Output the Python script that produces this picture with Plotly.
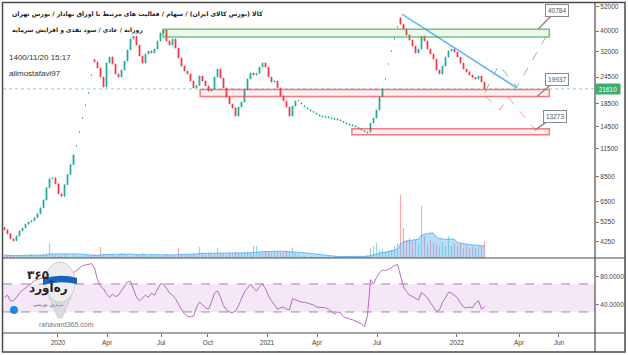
import math
import pandas as pd
import plotly.graph_objects as go

# ---------------- data ----------------
closes = [4830, 4630, 4390, 4300, 4530, 4780, 4930, 5130, 5250, 5320,
          5490, 5730, 6100, 6640, 7560, 8320, 8390, 7880, 7080, 6900,
          7800, 8700, 9660, 10730, 11800, 13670, 15860, 18210, 20700, 25060,
          28770, 26990, 24530, 22060, 28460, 30340, 28150, 25330, 24530, 26420,
          29070, 32680, 36740, 37860, 34470, 30660, 28460, 31310, 32350, 31670,
          33030, 35970, 39160, 40430, 35970, 34470, 36740, 33380, 30010, 27570,
          26140, 25330, 23510, 21830, 22400, 24790, 23510, 22300, 21140, 21600,
          24530, 26700, 24270, 21830, 19830, 18400, 17640, 16200, 17830, 18800,
          21370, 24010, 25590, 25060, 25500, 27280, 28460, 27280, 24530, 23260,
          23510, 21830, 20050, 19000, 17830, 16200, 18020, 19000, 19100, 18600,
          18020, 17640, 17270, 17000, 16700, 16380, 16200, 16110, 16030, 15860,
          15780, 15700, 15530, 15290, 15040, 14880, 14720, 14560, 14330, 14110,
          13890, 13670, 15040, 15860, 17270, 19830, 21600, 24010, 28150, 32350,
          36740, 41740, 43000, 40860, 38340, 36350, 34100, 31650, 33030, 37860,
          35970, 33030, 31320, 29670, 26420, 25330, 27570, 30340, 32350, 33030,
          31990, 30340, 28460, 26700, 25870, 25060, 24400, 24010, 24790, 23260,
          21610]

opens = [4950, 4830, 4630, 4390, 4300, 4530, 4780, 4930, 5130, 5250,
         5320, 5490, 5730, 6100, 6640, 7560, 8320, 8390, 7880, 7080,
         6900, 7800, 8700, 9660, 11800, 13670, 15860, 18210, 20700, 25060,
         29500, 28770, 26990, 24530, 22060, 28460, 30340, 28150, 25330, 24530,
         26420, 29070, 32680, 36740, 37860, 34470, 30660, 28460, 31310, 32350,
         31670, 33030, 35970, 39160, 40430, 35970, 34470, 36740, 33380, 30010,
         27570, 26140, 25330, 23510, 21830, 22400, 24790, 23510, 22300, 21140,
         21600, 24530, 26700, 24270, 21830, 19830, 18400, 17640, 16200, 17830,
         18800, 21370, 24010, 25590, 25060, 25500, 27280, 28460, 27280, 24530,
         23260, 23510, 21830, 20050, 19000, 17830, 16200, 18020, 19000, 18420,
         17840, 17460, 17100, 16830, 16530, 16220, 16040, 15950, 15870, 15700,
         15620, 15540, 15370, 15140, 14890, 14730, 14570, 14410, 14190, 13970,
         13750, 13530, 13670, 15040, 15860, 17270, 19830, 24010, 28150, 32350,
         36740, 41740, 46000, 43000, 40860, 38340, 36350, 34100, 31650, 33030,
         37860, 35970, 33030, 31320, 29670, 26420, 25330, 27570, 30340, 32350,
         33030, 31990, 30340, 28460, 26700, 25870, 25060, 24400, 24010, 24790,
         23260]

volumes = [3, 2, 3, 2, 3, 2, 3, 2, 3, 4,
           3, 2, 3, 4, 5, 15, 4, 3, 2, 3,
           4, 3, 2, 3, 2, 2, 2, 3, 2, 3,
           4, 3, 11, 4, 3, 4, 3, 2, 3, 5,
           4, 3, 2, 3, 4, 3, 5, 3, 2, 3,
           4, 3, 2, 3, 4, 3, 2, 3, 10, 4,
           3, 4, 3, 5, 4, 11, 4, 3, 5, 4,
           4, 10, 5, 4, 3, 5, 4, 6, 5, 4,
           5, 6, 5, 12, 12, 6, 5, 7, 6, 5,
           6, 5, 6, 5, 7, 6, 10, 5, 4, 2,
           2, 1, 2, 1, 2, 1, 2, 1, 2, 1,
           2, 1, 2, 1, 2, 1, 2, 1, 2, 1,
           2, 3, 10, 12, 15, 8, 9, 6, 7, 8,
           12, 15, 63, 30, 18, 20, 16, 18, 14, 52,
           22, 14, 18, 15, 14, 12, 16, 12, 22, 12,
           15, 12, 14, 10, 12, 10, 11, 10, 11, 12,
           16]

rsi_values = [51, 54, 46, 46, 51, 57, 61, 64, 67, 71,
              75, 76, 77, 79, 81, 83, 77, 70, 64, 64,
              71, 77, 81, 86, 89, 93, 96, 97, 98, 99,
              93, 76, 67, 63, 56, 51, 55, 52, 54, 60,
              67, 73, 74, 63, 51, 46, 50, 54, 51, 57,
              54, 63, 70, 70, 63, 57, 54, 49, 41, 34,
              27, 24, 23, 24, 37, 44, 40, 36, 34, 44,
              57, 60, 51, 39, 33, 30, 29, 31, 39, 49,
              59, 64, 70, 64, 60, 66, 70, 63, 53, 46,
              40, 34, 36, 37, 34, 33, 49, 47, 46, 44,
              44, 43, 41, 40, 37, 37, 37, 36, 34, 31,
              27, 30, 29, 23, 21, 20, 19, 17, 16, 13,
              9, 25, 76, 70, 79, 86, 90, 89, 91, 94,
              96, 98, 83, 66, 59, 54, 52, 50, 47, 58,
              54, 50, 43, 37, 31, 33, 44, 50, 58, 57,
              54, 50, 43, 37, 36, 37, 36, 43, 46, 34,
              37]

price_ticks = [4250, 5250, 6500, 8500, 11500, 14500, 18500, 24500, 32000, 40000, 52000]
rsi_ticks = [40, 80]
rsi_tick_text = ["40.0000", "80.0000"]
date_labels = ["2020", "Apr", "Jul", "Oct", "2021", "Apr", "Jul", "2022", "Apr", "Jun"]
date_label_bars = [17.8, 34.2, 52.2, 67.8, 87.5, 104.2, 124.2, 150.8, 171.5, 184.8]

last_price = 21610
resistance_zone = [37500, 40784]
support_zone = [19937, 21450]
deep_zone = [13273, 14150]
zone_start_bars = [52.8, 65.2, 115.8]
zone_end_bar = 181.6
callout_values = [40784, 19937, 13273]
callout_tip_prices = [40784, 19937, 13950]
callout_tip_bars = [177.8, 177.5, 176.8]

trend_bars = [132.5, 170.8]
trend_prices = [47900, 21830]
bull_bars = [160.2, 164.8, 170.8, 181.2]
bull_prices = [20920, 27860, 22060, 39160]
bear_bars = [160.2, 165.2, 167.8, 176.7]
bear_prices = [20050, 17270, 19830, 14110]

title_line1 = "کالا (بورس کالای ایران) / سهام / فعالیت های مرتبط با اوراق بهادار / بورس تهران"
title_line2 = "روزانه / عادی / سود نقدی و افزایش سرمایه"
stamp_text = "1400/11/20 15:17"
author_text = "alimostafavi97"

# ---------------- geometry helpers ----------------
W, H = 628, 355
ML, MR, MT, MB = 3, 33, 3, 22
PW, PH = W - ML - MR, H - MT - MB
SPLIT = 75 / PH  # rsi pane height share


def pxx(x):
    return (x - ML) / PW


def pyy(y):
    return (H - MB - y) / PH


UP = "#22ab94"
DOWN = "#f23645"
FONT = "Liberation Sans"

idx = list(range(len(closes)))
highs = [max(o, c) for o, c in zip(opens, closes)]
lows = [min(o, c) for o, c in zip(opens, closes)]
vol_colors = ["rgba(34,171,148,0.45)" if c >= o else "rgba(242,54,69,0.45)"
              for o, c in zip(opens, closes)]
vol_ma = pd.Series(volumes).rolling(12, min_periods=1).mean().tolist()

fig = go.Figure()

# volume (overlay on price pane)
fig.add_trace(go.Scatter(x=idx, y=vol_ma, mode="lines", fill="tozeroy",
                         line=dict(color="rgba(66,165,245,0.75)", width=1),
                         fillcolor="rgba(100,181,246,0.45)",
                         xaxis="x", yaxis="y3", hoverinfo="skip", showlegend=False))
fig.add_trace(go.Bar(x=idx, y=volumes, marker=dict(color=vol_colors, line=dict(width=0)),
                     width=0.4, xaxis="x", yaxis="y3", hoverinfo="skip", showlegend=False))

# candles
fig.add_trace(go.Candlestick(
    x=idx, open=opens, high=highs, low=lows, close=closes,
    increasing=dict(line=dict(color=UP, width=0.8), fillcolor=UP),
    decreasing=dict(line=dict(color=DOWN, width=0.8), fillcolor=DOWN),
    whiskerwidth=0, xaxis="x", yaxis="y", hoverinfo="skip", showlegend=False))

# trend line and projection paths
fig.add_trace(go.Scatter(x=trend_bars, y=trend_prices, mode="lines",
                         line=dict(color="#64b5f6", width=1.6),
                         xaxis="x", yaxis="y", hoverinfo="skip", showlegend=False))
fig.add_trace(go.Scatter(x=bull_bars, y=bull_prices, mode="lines",
                         line=dict(color="#81c784", width=1, dash="dash"),
                         xaxis="x", yaxis="y", hoverinfo="skip", showlegend=False))
fig.add_trace(go.Scatter(x=bear_bars, y=bear_prices, mode="lines",
                         line=dict(color="#ef9a9a", width=1, dash="dash"),
                         xaxis="x", yaxis="y", hoverinfo="skip", showlegend=False))

# RSI
fig.add_trace(go.Scatter(x=idx, y=rsi_values, mode="lines",
                         line=dict(color="#b968c9", width=1),
                         xaxis="x2", yaxis="y2", hoverinfo="skip", showlegend=False))

shapes = []
# RSI band + levels
shapes.append(dict(type="rect", xref="x2 domain", yref="y2", x0=0, x1=1, y0=30, y1=70,
                   fillcolor="rgba(156,39,176,0.11)", line=dict(width=0), layer="below"))
for lv in (30, 70):
    shapes.append(dict(type="line", xref="x2 domain", yref="y2", x0=0, x1=1, y0=lv, y1=lv,
                       line=dict(color="#9a8ca0", width=1, dash="dash"), layer="below"))

# zones
zone_styles = [
    (resistance_zone, "rgba(76,175,80,0.75)", "rgba(76,175,80,0.10)"),
    (support_zone, "rgba(242,54,69,0.65)", "rgba(242,54,69,0.08)"),
    (deep_zone, "rgba(242,54,69,0.65)", "rgba(242,54,69,0.08)"),
]
for (zone, lc, fc), xs in zip(zone_styles, zone_start_bars):
    shapes.append(dict(type="rect", xref="x", yref="y", x0=xs, x1=zone_end_bar,
                       y0=zone[0], y1=zone[1], fillcolor=fc,
                       line=dict(color=lc, width=1.5), layer="above"))

# last price line
shapes.append(dict(type="line", xref="x domain", yref="y", x0=0, x1=1,
                   y0=last_price, y1=last_price,
                   line=dict(color="rgba(34,171,148,0.55)", width=1, dash="dot")))

# frame & separators
frame_col = "#4a4a4a"
shapes.append(dict(type="rect", xref="paper", yref="paper",
                   x0=pxx(2.5), x1=pxx(625), y0=pyy(352), y1=pyy(2.5),
                   line=dict(color=frame_col, width=1.5)))
for yy in (258, 333):
    shapes.append(dict(type="line", xref="paper", yref="paper", x0=pxx(2.5), x1=pxx(625),
                       y0=pyy(yy), y1=pyy(yy), line=dict(color=frame_col, width=1.2)))
shapes.append(dict(type="line", xref="paper", yref="paper", x0=pxx(595), x1=pxx(595),
                   y0=pyy(352), y1=pyy(2.5), line=dict(color=frame_col, width=1.2)))

# logo (watermark)
shapes.append(dict(type="path", xref="paper", yref="paper",
                   path=f"M {pxx(47)},{pyy(292)} L {pxx(73)},{pyy(292)} L {pxx(62)},{pyy(318)} L {pxx(58)},{pyy(318)} Z",
                   fillcolor="#dcdcdc", line=dict(color="#cfcfcf", width=1)))
shapes.append(dict(type="circle", xref="paper", yref="paper",
                   x0=pxx(45), x1=pxx(75), y0=pyy(302), y1=pyy(262),
                   fillcolor="#eeeeee", line=dict(color="#d0d0d0", width=1)))
shapes.append(dict(type="path", xref="paper", yref="paper",
                   path=f"M {pxx(43)},{pyy(279)} Q {pxx(60)},{pyy(273)} {pxx(77)},{pyy(278)} L {pxx(77)},{pyy(284)} Q {pxx(60)},{pyy(280)} {pxx(43)},{pyy(285)} Z",
                   fillcolor="#1565c0", line=dict(width=0)))
shapes.append(dict(type="circle", xref="paper", yref="paper",
                   x0=pxx(10), x1=pxx(18), y0=pyy(314), y1=pyy(306),
                   fillcolor="#1e88e5", line=dict(width=0)))

annotations = []
# titles
annotations.append(dict(xref="paper", yref="paper", x=pxx(10), y=pyy(14), xanchor="left",
                        yanchor="middle", text="<b>" + title_line1 + "</b>", showarrow=False,
                        font=dict(family="DejaVu Sans", size=6.2, color="#222")))
annotations.append(dict(xref="paper", yref="paper", x=pxx(10), y=pyy(30), xanchor="left",
                        yanchor="middle", text="<b>" + title_line2 + "</b>", showarrow=False,
                        font=dict(family="DejaVu Sans", size=6.0, color="#222")))
annotations.append(dict(xref="paper", yref="paper", x=pxx(7), y=pyy(58), xanchor="left",
                        yanchor="middle", text=stamp_text, showarrow=False,
                        font=dict(family=FONT, size=8, color="#333")))
annotations.append(dict(xref="paper", yref="paper", x=pxx(7), y=pyy(73), xanchor="left",
                        yanchor="middle", text=author_text, showarrow=False,
                        font=dict(family=FONT, size=8, color="#333")))

# callouts
offsets = [(19, -19), (20, -17), (20, -14)]
for val, tipb, tipp, (ax, ay) in zip(callout_values, callout_tip_bars, callout_tip_prices, offsets):
    annotations.append(dict(xref="x", yref="y", x=tipb, y=math.log10(tipp), text=str(val),
                            showarrow=True, arrowhead=0, arrowwidth=1.5, arrowcolor="#8a8a8a",
                            ax=ax, ay=ay, bgcolor="white", bordercolor="#8a8a8a", borderwidth=1,
                            borderpad=2, font=dict(family=FONT, size=6.5, color="#555")))

# last price tag
annotations.append(dict(xref="paper", yref="y", x=1.0, y=math.log10(last_price), xanchor="left",
                        yanchor="middle", text=str(last_price), showarrow=False,
                        bgcolor="#3dae6e", width=24, height=10, borderpad=0,
                        font=dict(family=FONT, size=6.5, color="white")))

# logo texts
annotations.append(dict(xref="paper", yref="paper", x=pxx(25), y=pyy(284), text="<b>۳۶۵</b>",
                        showarrow=False, font=dict(family="DejaVu Sans", size=12, color="#222")))
annotations.append(dict(xref="paper", yref="paper", x=pxx(27), y=pyy(298), text="<b>ره‌آورد</b>",
                        showarrow=False, font=dict(family="DejaVu Sans", size=12, color="#222")))
annotations.append(dict(xref="paper", yref="paper", x=pxx(31), y=pyy(310), text="برترین بورسی",
                        showarrow=False, font=dict(family="DejaVu Sans", size=5, color="#666")))
annotations.append(dict(xref="paper", yref="paper", x=pxx(37), y=pyy(330), text="rahavard365.com",
                        showarrow=False, font=dict(family=FONT, size=7, color="#777")))

axis_font = dict(family=FONT, size=6.5, color="#444")
fig.update_layout(
    width=W, height=H,
    margin=dict(l=ML, r=MR, t=MT, b=MB),
    paper_bgcolor="white", plot_bgcolor="white",
    showlegend=False, boxgap=0.55,
    xaxis=dict(domain=[0, 1], anchor="y", range=[-0.5, (PW - 1.5) / 3],
               showticklabels=False, showgrid=False, zeroline=False, showline=False,
               rangeslider=dict(visible=False)),
    xaxis2=dict(domain=[0, 1], anchor="y2", matches="x", tickvals=date_label_bars,
                ticktext=date_labels, ticks="outside", ticklen=3, tickcolor="#777",
                tickfont=axis_font, showgrid=False, zeroline=False, showline=False),
    yaxis=dict(domain=[SPLIT, 1], anchor="x", type="log",
               range=[math.log10(40000) - 227 / 216.6, math.log10(40000) + 28 / 216.6],
               side="right", tickvals=price_ticks, ticktext=[str(t) for t in price_ticks],
               ticks="outside", ticklen=3, tickcolor="#777", tickfont=axis_font,
               showgrid=False, zeroline=False, showline=False),
    yaxis2=dict(domain=[0, SPLIT], anchor="x2", range=[0, 107], side="right",
                tickvals=rsi_ticks, ticktext=rsi_tick_text, ticks="outside", ticklen=3,
                tickcolor="#777", tickfont=axis_font, showgrid=False, zeroline=False),
    yaxis3=dict(overlaying="y", anchor="x", range=[0, 255], visible=False),
    shapes=shapes, annotations=annotations,
)

fig.write_html("out.html")
